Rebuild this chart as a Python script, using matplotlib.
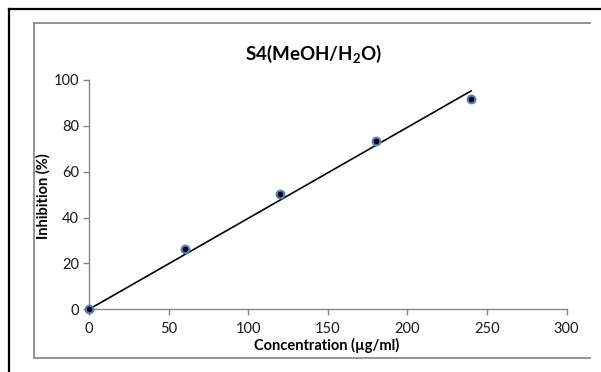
import numpy as np
import matplotlib
matplotlib.use("Agg")
import matplotlib.pyplot as plt
from matplotlib.lines import Line2D

plt.rcParams['font.family'] = ['Lato', 'DejaVu Sans']
plt.rcParams['mathtext.fontset'] = 'custom'
plt.rcParams['mathtext.rm'] = 'Lato'
plt.rcParams['mathtext.bf'] = 'Lato:bold'

# Measured inhibition at each concentration
concentration = [0, 60, 120, 180, 240]
inhibition = [0, 26.1, 50.5, 73.6, 91.6]
x_ticks = [0, 50, 100, 150, 200, 250, 300]
y_ticks = [0, 20, 40, 60, 80, 100]

W, H = 601, 372
fig = plt.figure(figsize=(W / 100, H / 100), dpi=100)
ax = fig.add_axes([89 / W, 1 - 309.3 / H, (566.6 - 89) / W, (309.3 - 80) / H])

# Linear trendline forced through the origin
x = np.array(concentration, dtype=float)
y = np.array(inhibition, dtype=float)
slope = (x * y).sum() / (x * x).sum()
xf = np.array([0, x.max()])
ax.plot(xf, slope * xf, color='black', lw=1.2, zorder=2, clip_on=False)

ax.scatter(concentration, inhibition, s=50, color='#4F81BD', zorder=3,
           linewidths=0, clip_on=False)
ax.scatter(concentration, inhibition, s=16, color='black', zorder=4,
           linewidths=0, clip_on=False)

ax.set_xlim(0, 300)
ax.set_ylim(0, 100)
ax.set_xticks(x_ticks)
ax.set_yticks(y_ticks)
for s in ['top', 'right']:
    ax.spines[s].set_visible(False)
for s in ['left', 'bottom']:
    ax.spines[s].set_color('#868686')
    ax.spines[s].set_linewidth(1.0)
ax.tick_params(direction='out', length=4, width=1.0, color='#868686',
               labelsize=10.5, labelcolor='#1a1a1a', pad=3)
ax.tick_params(axis='x', pad=5)

fig.text(313 / W, 1 - 54 / H, r'S4(MeOH/H$_\mathbf{2}$O)', ha='center', va='center',
         fontsize=13.5, fontweight='bold')
fig.text(43 / W, 1 - 196 / H, 'Inhibition (%)', ha='center', va='center',
         rotation=90, fontsize=10.5, fontweight='bold')
fig.text(327 / W, 1 - 345 / H, 'Concentration (µg/ml)', ha='center', va='center',
         fontsize=10.5, fontweight='bold')

# Outer black border (top and left) and inner grey chart frame
def fline(x0, y0, x1, y1, **kw):
    fig.add_artist(Line2D([x0 / W, x1 / W], [1 - y0 / H, 1 - y1 / H],
                          transform=fig.transFigure, **kw))

fline(9, 9, 9, H, color='black', lw=1.6)
fline(9, 9, W, 9, color='black', lw=1.6)
fline(33.5, 23, 33.5, 357.5, color='#8c8c8c', lw=1.3)
fline(33.5, 23, 590, 23, color='#8c8c8c', lw=1.3)
fline(33.5, 357.5, 590, 357.5, color='#8c8c8c', lw=1.3)

fig.savefig('out.png', dpi=100)
